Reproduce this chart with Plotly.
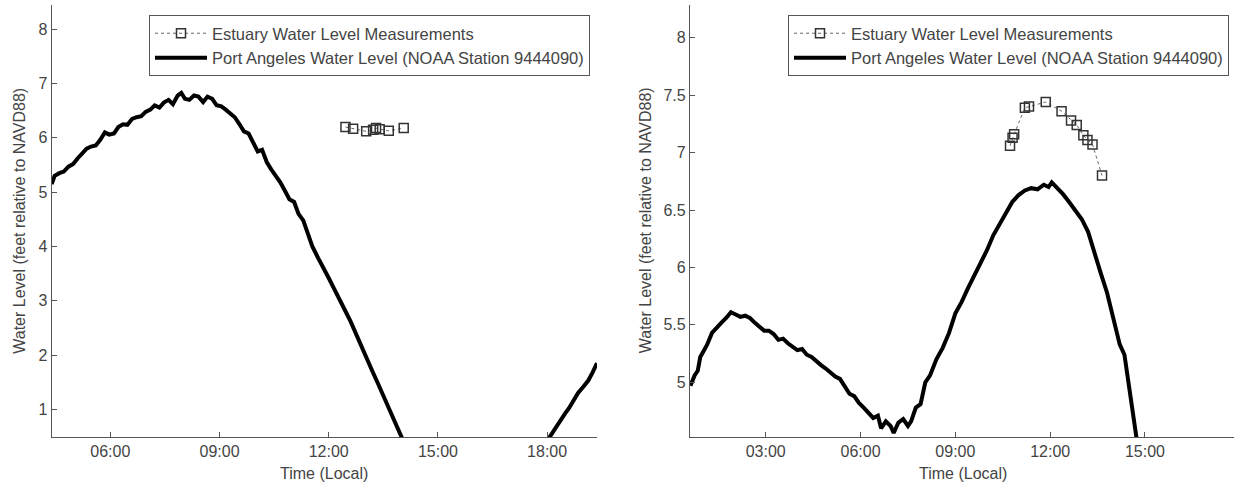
import plotly.graph_objects as go

# ---- Left panel: hours of day (local) and water level (ft, NAVD88) ----
left_tide_hours = [
    4.39, 4.47, 4.60, 4.72, 4.85, 4.98, 5.10, 5.22, 5.35, 5.47, 5.60, 5.72,
    5.85, 5.97, 6.10, 6.22, 6.35, 6.47, 6.60, 6.72, 6.85, 6.97, 7.10, 7.22,
    7.35, 7.47, 7.60, 7.72, 7.85, 7.95, 8.05, 8.17, 8.30, 8.42, 8.55, 8.67,
    8.80, 8.92, 9.05, 9.17, 9.30, 9.42, 9.55, 9.67, 9.80, 9.92, 10.05, 10.17,
    10.30, 10.42, 10.55, 10.67, 10.80, 10.92, 11.05, 11.17, 11.30, 11.42,
    11.55, 11.70, 11.85, 12.00, 12.15, 12.30, 12.45, 12.60, 12.75, 12.90,
    13.05, 13.20, 13.35, 13.50, 13.65, 13.80, 13.92, 14.02,
    None,
    18.05, 18.20, 18.35, 18.50, 18.60, 18.75, 18.85, 19.00, 19.13, 19.25, 19.37,
]
left_tide_levels = [
    5.15, 5.30, 5.35, 5.38, 5.47, 5.52, 5.62, 5.72, 5.80, 5.84, 5.86, 5.96,
    6.10, 6.06, 6.08, 6.20, 6.25, 6.24, 6.35, 6.38, 6.40, 6.48, 6.52, 6.60,
    6.56, 6.65, 6.70, 6.62, 6.78, 6.83, 6.72, 6.70, 6.78, 6.76, 6.66, 6.76,
    6.72, 6.60, 6.58, 6.52, 6.45, 6.38, 6.25, 6.12, 6.08, 5.92, 5.75, 5.78,
    5.55, 5.42, 5.30, 5.18, 5.02, 4.87, 4.82, 4.60, 4.48, 4.25,
    4.00, 3.80, 3.62, 3.42, 3.22, 3.00, 2.82, 2.62, 2.38, 2.18,
    1.92, 1.70, 1.48, 1.25, 1.02, 0.83, 0.65, 0.46,
    None,
    0.47, 0.63, 0.80, 0.93, 1.02, 1.20, 1.30, 1.42, 1.53, 1.68, 1.85,
]
left_estuary_hours = [12.46, 12.67, 13.03, 13.22, 13.30, 13.40, 13.65, 14.06]
left_estuary_levels = [6.20, 6.17, 6.12, 6.15, 6.18, 6.16, 6.13, 6.18]

# ---- Right panel ----
right_tide_hours = [
    0.62, 0.75, 0.85, 0.93, 1.05, 1.15, 1.30, 1.45, 1.60, 1.75, 1.90, 2.05,
    2.20, 2.35, 2.50, 2.65, 2.80, 2.95, 3.10, 3.25, 3.40, 3.55, 3.70, 3.85,
    4.00, 4.15, 4.30, 4.45, 4.60, 4.75, 4.90, 5.05, 5.20, 5.35, 5.50, 5.65,
    5.80, 5.95, 6.10, 6.25, 6.40, 6.55, 6.65, 6.80, 6.95, 7.05, 7.20, 7.35,
    7.50, 7.60, 7.75, 7.90, 8.05, 8.20, 8.40, 8.60, 8.80, 9.00, 9.20, 9.40,
    9.60, 9.80, 10.00, 10.20, 10.40, 10.60, 10.80, 11.00, 11.20, 11.40,
    11.60, 11.80, 11.95, 12.05, 12.20, 12.40, 12.60, 12.80, 13.00, 13.20,
    13.40, 13.60, 13.80, 14.00, 14.20, 14.35, 14.50, 14.74,
]
right_tide_levels = [
    4.97, 5.06, 5.10, 5.22, 5.28, 5.33, 5.43, 5.48, 5.52, 5.56, 5.61, 5.59,
    5.57, 5.58, 5.56, 5.52, 5.49, 5.45, 5.45, 5.42, 5.37, 5.38, 5.34, 5.31,
    5.28, 5.29, 5.24, 5.22, 5.18, 5.15, 5.12, 5.08, 5.05, 5.03, 4.96, 4.90,
    4.88, 4.82, 4.78, 4.74, 4.69, 4.71, 4.60, 4.66, 4.62, 4.56, 4.65, 4.68,
    4.62, 4.66, 4.78, 4.81, 5.00, 5.06, 5.20, 5.30, 5.43, 5.60, 5.70, 5.82,
    5.93, 6.04, 6.15, 6.28, 6.38, 6.47, 6.57, 6.63, 6.67, 6.69,
    6.68, 6.72, 6.70, 6.74, 6.70, 6.64, 6.57, 6.50, 6.42, 6.31,
    6.12, 5.95, 5.78, 5.57, 5.33, 5.24, 4.93, 4.50,
]
right_estuary_hours = [10.73, 10.81, 10.86, 11.20, 11.33, 11.86, 12.36,
                       12.66, 12.84, 13.05, 13.18, 13.34, 13.64]
right_estuary_levels = [7.06, 7.13, 7.16, 7.39, 7.40, 7.44, 7.36,
                        7.28, 7.24, 7.15, 7.11, 7.07, 6.80]

# ---- Axis ticks ----
left_tick_hours = [6, 9, 12, 15, 18]
left_tick_labels = ["06:00", "09:00", "12:00", "15:00", "18:00"]
right_tick_hours = [3, 6, 9, 12, 15]
right_tick_labels = ["03:00", "06:00", "09:00", "12:00", "15:00"]
left_level_ticks = [1, 2, 3, 4, 5, 6, 7, 8]
left_level_labels = ["1", "2", "3", "4", "5", "6", "7", "8"]
right_level_ticks = [5, 5.5, 6, 6.5, 7, 7.5, 8]
right_level_labels = ["5", "5.5", "6", "6.5", "7", "7.5", "8"]

estuary_name = "Estuary Water Level Measurements"
tide_name = "Port Angeles Water Level (NOAA Station 9444090)"

W, H = 1234, 484
FONT = "Arial, Liberation Sans, sans-serif"
TEXT = "#444444"
AXIS = "#555555"


def px_x(p):
    return p / W


def px_y(p):
    return 1 - p / H


fig = go.Figure()

panels = [
    (left_estuary_hours, left_estuary_levels, left_tide_hours, left_tide_levels,
     "x", "y", "legend"),
    (right_estuary_hours, right_estuary_levels, right_tide_hours, right_tide_levels,
     "x2", "y2", "legend2"),
]
for est_h, est_v, tide_h, tide_v, xa, ya, lg in panels:
    fig.add_trace(go.Scatter(
        x=est_h, y=est_v, name=estuary_name, mode="lines+markers",
        line=dict(color="#666666", width=1, dash="dot"),
        marker=dict(symbol="square-open", size=9, color="#333333",
                    line=dict(width=1.5, color="#333333")),
        xaxis=xa, yaxis=ya, legend=lg,
    ))
    fig.add_trace(go.Scatter(
        x=tide_h, y=tide_v, name=tide_name, mode="lines",
        line=dict(color="black", width=4), connectgaps=False,
        xaxis=xa, yaxis=ya, legend=lg,
    ))

axis_common = dict(
    showline=True, linecolor=AXIS, linewidth=1.3, mirror=False,
    showgrid=False, zeroline=False,
    ticks="inside", ticklen=5, tickcolor=AXIS, tickwidth=1,
    tickfont=dict(family=FONT, size=16, color=TEXT),
)

legend_common = dict(
    y=px_y(15), yanchor="top", xanchor="right",
    bgcolor="white", bordercolor="#555555", borderwidth=1,
    font=dict(family=FONT, size=16.5, color=TEXT),
    tracegroupgap=0, itemwidth=52,
)

y_dom = [px_y(437), px_y(4.5)]

fig.update_layout(
    width=W, height=H,
    margin=dict(l=0, r=0, t=0, b=0),
    paper_bgcolor="white", plot_bgcolor="white",
    font=dict(family=FONT, size=16, color=TEXT),
    xaxis=dict(domain=[px_x(51.7), px_x(597)], range=[4.39, 19.37],
               tickvals=left_tick_hours, ticktext=left_tick_labels,
               anchor="y", **axis_common),
    yaxis=dict(domain=y_dom, range=[0.49, 8.457], tickvals=left_level_ticks,
               ticktext=left_level_labels, anchor="x", **axis_common),
    xaxis2=dict(domain=[px_x(690), 1.0], range=[0.605, 17.816],
                tickvals=right_tick_hours, ticktext=right_tick_labels,
                anchor="y2", **axis_common),
    yaxis2=dict(domain=y_dom, range=[4.524, 8.289], tickvals=right_level_ticks,
                ticktext=right_level_labels, anchor="x2", **axis_common),
    legend=dict(x=px_x(590), **legend_common),
    legend2=dict(x=px_x(1229), **legend_common),
    showlegend=True,
)

# Axis titles
y_title = "Water Level (feet relative to NAVD88)"
x_title = "Time (Local)"
for xc, txt, ang, yc in [
    (20, y_title, -90, (437 + 4.5) / 2),
    (645.5, y_title, -90, (437 + 4.5) / 2),
    ((51.7 + 597) / 2, x_title, 0, 473),
    ((690 + 1236) / 2, x_title, 0, 473),
]:
    fig.add_annotation(
        x=px_x(xc), y=px_y(yc), xref="paper", yref="paper",
        text=txt, textangle=ang, showarrow=False,
        xanchor="center", yanchor="middle",
        font=dict(family=FONT, size=16, color=TEXT),
    )

fig.write_html("out.html")
